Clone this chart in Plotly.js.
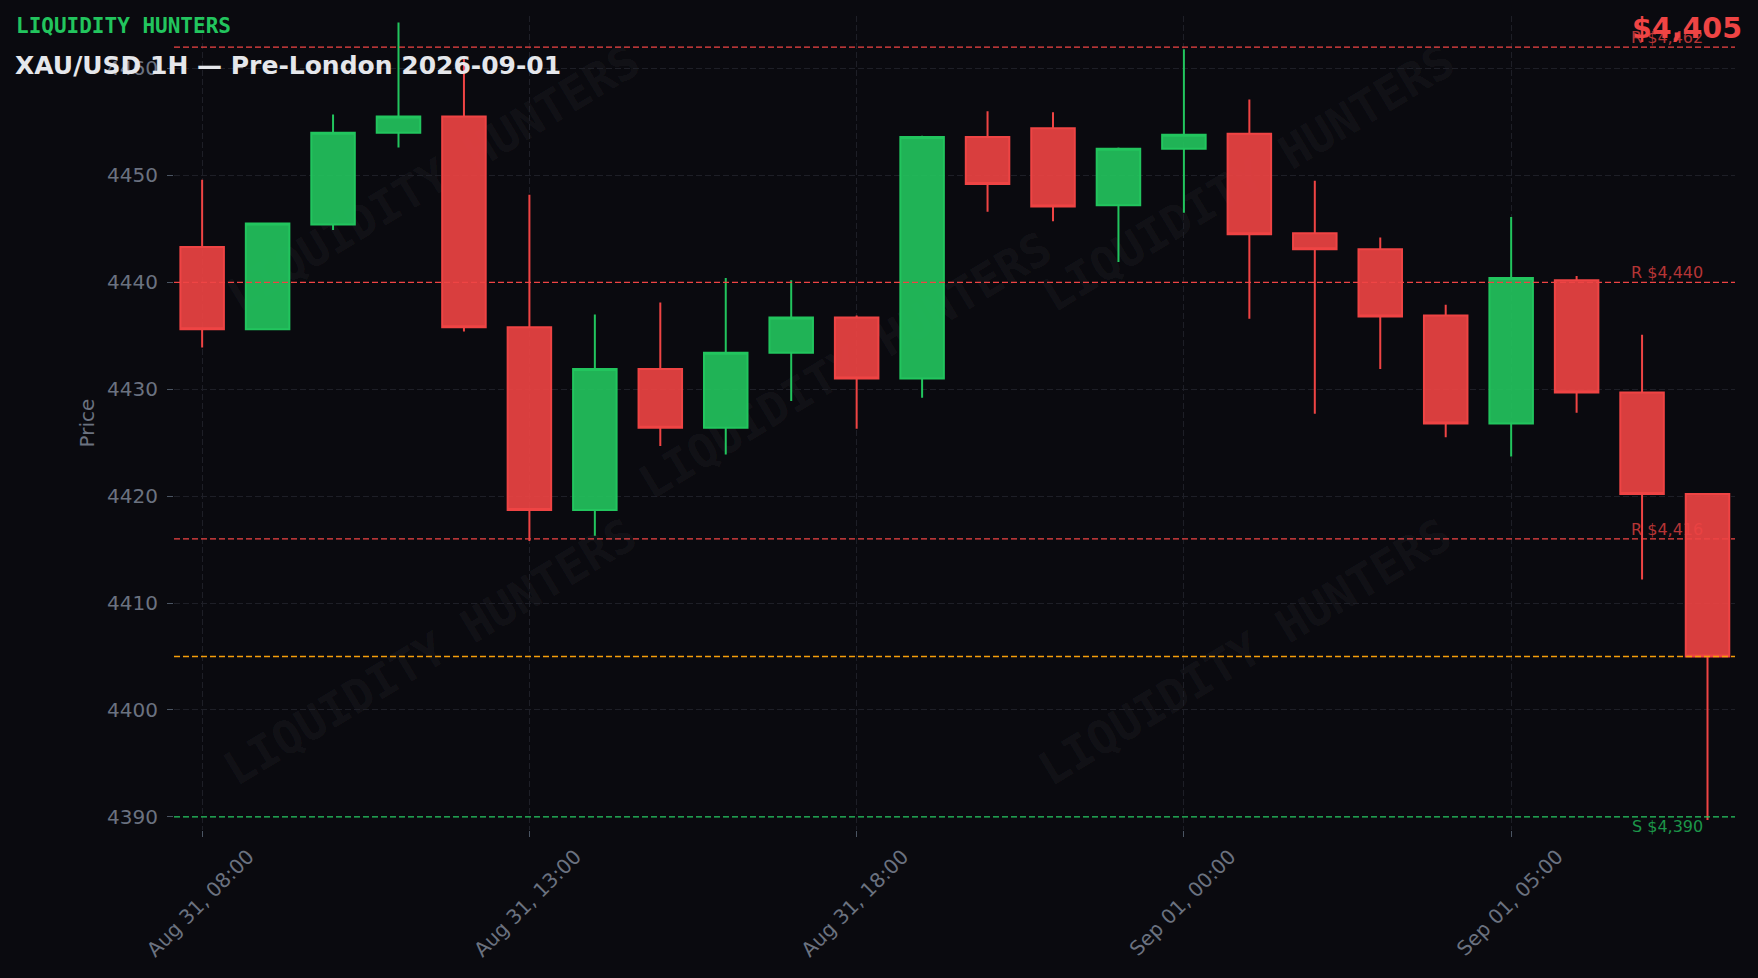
<!DOCTYPE html>
<html>
<head>
<meta charset="utf-8">
<script src="https://cdn.plot.ly/plotly-3.0.1.min.js"></script>
<style>html,body{margin:0;padding:0;background:#0a0a0f;}#chart{width:1758px;height:978px;}</style>
</head>
<body>
<div id="chart"></div>
<script>
const times = [
  'Aug 31, 08:00','Aug 31, 09:00','Aug 31, 10:00','Aug 31, 11:00','Aug 31, 12:00',
  'Aug 31, 13:00','Aug 31, 14:00','Aug 31, 15:00','Aug 31, 16:00','Aug 31, 17:00',
  'Aug 31, 18:00','Aug 31, 19:00','Aug 31, 20:00','Aug 31, 21:00','Aug 31, 22:00',
  'Sep 01, 00:00','Sep 01, 01:00','Sep 01, 02:00','Sep 01, 03:00','Sep 01, 04:00',
  'Sep 01, 05:00','Sep 01, 06:00','Sep 01, 07:00','Sep 01, 08:00'
];
const opens  = [4443.3,4435.6,4445.4,4454.0,4455.5,4435.8,4418.7,4431.9,4426.4,4433.4,4436.7,4431.0,4453.6,4454.4,4447.2,4452.5,4453.9,4444.6,4443.1,4436.9,4426.8,4440.2,4429.7,4420.2];
const highs  = [4449.6,4445.6,4455.7,4464.3,4461.1,4448.2,4437.0,4438.1,4440.4,4440.2,4436.9,4453.7,4456.0,4455.9,4452.6,4461.8,4457.1,4449.5,4444.2,4437.9,4446.1,4440.6,4435.1,4420.2];
const lows   = [4433.9,4435.6,4444.9,4452.6,4435.4,4415.8,4416.3,4424.7,4423.9,4428.9,4426.3,4429.2,4446.6,4445.7,4441.9,4446.5,4436.6,4427.7,4431.9,4425.5,4423.7,4427.8,4412.2,4389.7];
const closes = [4435.6,4445.5,4454.0,4455.5,4435.8,4418.7,4431.9,4426.4,4433.4,4436.7,4431.0,4453.6,4449.2,4447.1,4452.5,4453.8,4444.5,4443.1,4436.8,4426.8,4440.4,4429.7,4420.2,4405.0];

const resistanceLevels = [4462, 4440, 4416];
const supportLevels = [4390];
const currentPrice = 4405;

const brand = 'LIQUIDITY HUNTERS';
const chartTitle = 'XAU/USD 1H — Pre-London 2026-09-01';

const RED = '#ef4444', GREEN = '#22c55e', ORANGE = '#f59e0b';
const fmt = v => '$' + v.toLocaleString('en-US');

const trace = {
  type: 'candlestick',
  x: times, open: opens, high: highs, low: lows, close: closes,
  increasing: {line: {color: GREEN, width: 2}, fillcolor: 'rgba(34,197,94,0.9)'},
  decreasing: {line: {color: RED, width: 2}, fillcolor: 'rgba(239,68,68,0.9)'},
  hoverinfo: 'skip', showlegend: false
};

const shapes = [];
const annotations = [];

// watermark (below the candles)
const wmPos = [[0.165,0.804],[0.429,0.574],[0.687,0.804],[0.163,0.222],[0.685,0.222]];
wmPos.forEach(p => {
  shapes.push({
    type: 'rect', xref: 'paper', yref: 'paper', layer: 'below',
    x0: p[0]-0.01, x1: p[0]+0.01, y0: p[1]-0.01, y1: p[1]+0.01,
    line: {width: 0}, fillcolor: 'rgba(0,0,0,0)',
    label: {text: '<b>' + brand + '</b>', textangle: -31, textposition: 'middle center',
      font: {family: 'DejaVu Sans Mono', size: 46, color: 'rgba(255,255,255,0.05)'}}
  });
});

const dashPat = '6px,3px';
resistanceLevels.forEach(v => {
  shapes.push({type: 'line', xref: 'paper', x0: 0, x1: 1, yref: 'y', y0: v, y1: v,
    line: {color: RED, width: 1.3, dash: dashPat}});
  annotations.push({xref: 'paper', yref: 'y', x: 0.98, y: v, xanchor: 'right', yanchor: 'bottom',
    text: 'R ' + fmt(v), showarrow: false, borderpad: 0, yshift: -1,
    font: {family: 'DejaVu Sans', size: 16, color: 'rgba(239,68,68,0.75)'}});
});
supportLevels.forEach(v => {
  shapes.push({type: 'line', xref: 'paper', x0: 0, x1: 1, yref: 'y', y0: v, y1: v,
    line: {color: GREEN, width: 1.3, dash: dashPat}});
  annotations.push({xref: 'paper', yref: 'y', x: 0.98, y: v, xanchor: 'right', yanchor: 'top',
    text: 'S ' + fmt(v), showarrow: false, borderpad: 0, yshift: 1,
    font: {family: 'DejaVu Sans', size: 16, color: 'rgba(34,197,94,0.75)'}});
});
shapes.push({type: 'line', xref: 'paper', x0: 0, x1: 1, yref: 'y', y0: currentPrice, y1: currentPrice,
  line: {color: ORANGE, width: 1.3, dash: dashPat}});

annotations.push({xref: 'paper', yref: 'paper', x: -0.1027, y: 0.988, xanchor: 'left', yanchor: 'middle',
  text: '<b>' + brand + '</b>', showarrow: false,
  font: {family: 'DejaVu Sans Mono', size: 21, color: GREEN}});
annotations.push({xref: 'paper', yref: 'paper', x: 1.006, y: 0.985, xanchor: 'right', yanchor: 'middle',
  text: '<b>' + fmt(closes[closes.length-1]) + '</b>', showarrow: false,
  font: {family: 'DejaVu Sans', size: 28.5, color: RED}});

const tickTimes = times.filter((t, i) => i % 5 === 0);

const layout = {
  width: 1758, height: 978,
  paper_bgcolor: '#0a0a0f', plot_bgcolor: '#0a0a0f',
  margin: {l: 174, r: 23, t: 16, b: 148, pad: 0},
  boxgap: 0.05,
  title: {text: '<b>' + chartTitle + '</b>', x: 15/1758, xanchor: 'left', xref: 'container',
    y: 1 - 65.5/978, yanchor: 'middle', yref: 'container',
    font: {family: 'DejaVu Sans', size: 25, color: '#e5e7eb'}},
  xaxis: {
    type: 'category', range: [-0.43, 23.42], rangeslider: {visible: false},
    tickvals: tickTimes, ticktext: tickTimes, tickangle: -45, ticklabelshift: 46,
    ticks: 'outside', ticklen: 6, tickcolor: '#4b5563',
    showgrid: true, gridcolor: '#1e1f27', griddash: dashPat, gridwidth: 1,
    tickfont: {family: 'DejaVu Sans', size: 20, color: '#6b7280'},
    showline: false, zeroline: false, fixedrange: true
  },
  yaxis: {
    range: [4388.77, 4464.91], dtick: 10, tick0: 4390,
    ticks: 'outside', ticklen: 6, tickcolor: '#4b5563', ticklabelstandoff: 5,
    showgrid: true, gridcolor: '#1e1f27', griddash: dashPat, gridwidth: 1,
    tickfont: {family: 'DejaVu Sans', size: 20, color: '#6b7280'},
    title: {text: 'Price', standoff: 7, font: {family: 'DejaVu Sans', size: 20, color: '#6b7280'}},
    showline: false, zeroline: false, fixedrange: true
  },
  shapes: shapes,
  annotations: annotations,
  showlegend: false
};

Plotly.newPlot('chart', [trace], layout, {displayModeBar: false, staticPlot: true});
</script>
</body>
</html>
